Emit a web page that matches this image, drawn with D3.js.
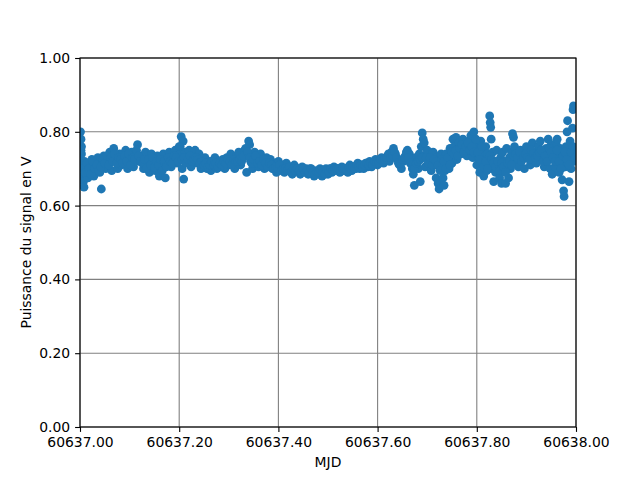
<!DOCTYPE html>
<html><head><meta charset="utf-8">
<script src="https://cdn.jsdelivr.net/npm/d3@7"></script>
<style>body{margin:0;background:#fff}svg{display:block}text{font-family:"DejaVu Sans",sans-serif}</style>
</head><body><svg id="c" width="640" height="480"></svg>
<script>
const mjdBase = 60637;
const mjdFraction = [
0.001,0.002,0.003,0.003,0.004,0.005,0.006,0.007,0.008,0.009,
0.010,0.012,0.016,0.020,0.024,0.028,0.032,0.036,0.040,0.043,
0.044,0.048,0.052,0.056,0.060,0.064,0.068,0.072,0.076,0.080,
0.084,0.088,0.092,0.096,0.100,0.104,0.108,0.112,0.116,0.120,
0.124,0.128,0.132,0.136,0.140,0.144,0.148,0.152,0.156,0.160,
0.164,0.168,0.172,0.176,0.180,0.184,0.188,0.192,0.196,0.200,
0.202,0.204,0.206,0.208,0.209,0.212,0.216,0.220,0.224,0.228,
0.232,0.236,0.240,0.244,0.248,0.252,0.256,0.260,0.264,0.268,
0.272,0.276,0.280,0.284,0.288,0.292,0.296,0.300,0.304,0.308,
0.312,0.316,0.320,0.324,0.328,0.332,0.336,0.340,0.342,0.344,
0.348,0.352,0.356,0.360,0.364,0.368,0.372,0.376,0.380,0.384,
0.388,0.392,0.396,0.400,0.404,0.408,0.412,0.416,0.420,0.424,
0.428,0.432,0.436,0.440,0.444,0.448,0.452,0.456,0.460,0.464,
0.468,0.472,0.476,0.480,0.484,0.488,0.492,0.496,0.500,0.504,
0.508,0.512,0.516,0.520,0.524,0.528,0.532,0.536,0.540,0.544,
0.548,0.552,0.556,0.560,0.564,0.568,0.572,0.576,0.580,0.584,
0.588,0.592,0.596,0.600,0.604,0.608,0.612,0.616,0.620,0.624,
0.628,0.632,0.636,0.640,0.644,0.648,0.652,0.656,0.660,0.664,
0.668,0.670,0.672,0.674,0.676,0.680,0.682,0.684,0.686,0.688,
0.690,0.692,0.694,0.696,0.700,0.704,0.708,0.712,0.716,0.718,
0.720,0.722,0.724,0.726,0.728,0.730,0.732,0.734,0.736,0.738,
0.740,0.744,0.746,0.748,0.750,0.752,0.754,0.756,0.758,0.760,
0.762,0.764,0.768,0.772,0.776,0.780,0.784,0.788,0.790,0.792,
0.794,0.796,0.798,0.800,0.802,0.804,0.806,0.808,0.810,0.812,
0.814,0.816,0.818,0.820,0.822,0.824,0.826,0.827,0.828,0.829,
0.830,0.832,0.834,0.836,0.838,0.840,0.844,0.846,0.848,0.850,
0.852,0.854,0.856,0.858,0.860,0.862,0.864,0.866,0.868,0.870,
0.872,0.874,0.876,0.878,0.880,0.884,0.888,0.892,0.896,0.900,
0.904,0.908,0.912,0.916,0.920,0.924,0.928,0.932,0.936,0.940,
0.944,0.946,0.948,0.950,0.952,0.954,0.956,0.958,0.960,0.962,
0.964,0.966,0.968,0.970,0.972,0.974,0.975,0.976,0.978,0.980,
0.982,0.983,0.985,0.986,0.988,0.990,0.992,0.993,0.994,0.995,
0.996,0.997
];
const powerV = [
0.80,0.78,0.76,0.74,0.72,0.70,0.68,0.665,0.65,0.72,
0.69,0.71,0.675,0.70,0.725,0.68,0.705,0.73,0.69,0.645,
0.715,0.735,0.70,0.72,0.745,0.695,0.755,0.725,0.70,0.74,
0.71,0.73,0.75,0.70,0.725,0.745,0.705,0.74,0.765,0.72,
0.735,0.70,0.745,0.715,0.69,0.74,0.72,0.695,0.735,0.68,
0.71,0.74,0.675,0.72,0.745,0.705,0.73,0.75,0.715,0.76,
0.74,0.787,0.70,0.775,0.672,0.745,0.72,0.75,0.705,0.735,
0.75,0.715,0.74,0.70,0.725,0.73,0.70,0.72,0.695,0.715,
0.73,0.70,0.72,0.705,0.725,0.70,0.73,0.71,0.74,0.715,
0.70,0.735,0.745,0.71,0.73,0.75,0.69,0.775,0.765,0.72,
0.70,0.745,0.725,0.705,0.74,0.72,0.70,0.73,0.71,0.725,
0.70,0.715,0.69,0.72,0.70,0.71,0.69,0.715,0.70,0.705,
0.685,0.71,0.695,0.70,0.685,0.705,0.695,0.70,0.685,0.70,
0.69,0.68,0.695,0.685,0.70,0.68,0.69,0.70,0.685,0.70,
0.69,0.705,0.695,0.70,0.69,0.705,0.695,0.70,0.69,0.71,
0.695,0.705,0.70,0.715,0.70,0.71,0.70,0.715,0.705,0.72,
0.705,0.715,0.725,0.71,0.72,0.73,0.715,0.725,0.735,0.72,
0.745,0.755,0.74,0.725,0.71,0.70,0.72,0.735,0.75,0.74,
0.72,0.70,0.685,0.655,0.73,0.72,0.70,0.74,0.665,0.76,
0.797,0.78,0.735,0.705,0.75,0.72,0.695,0.745,0.71,0.675,
0.73,0.66,0.645,0.70,0.74,0.715,0.675,0.655,0.695,0.74,
0.72,0.70,0.755,0.735,0.715,0.78,0.76,0.735,0.785,0.725,
0.75,0.77,0.74,0.78,0.755,0.735,0.775,0.79,0.75,0.73,
0.80,0.765,0.74,0.71,0.76,0.73,0.69,0.775,0.745,0.71,
0.68,0.735,0.76,0.695,0.74,0.72,0.843,0.825,0.812,0.78,
0.70,0.745,0.665,0.72,0.69,0.75,0.71,0.675,0.73,0.66,
0.745,0.695,0.72,0.66,0.755,0.705,0.675,0.73,0.70,0.745,
0.795,0.785,0.76,0.72,0.74,0.705,0.75,0.725,0.70,0.76,
0.735,0.71,0.77,0.745,0.715,0.76,0.775,0.73,0.705,0.755,
0.78,0.74,0.70,0.765,0.685,0.725,0.75,0.705,0.77,0.78,
0.735,0.69,0.755,0.72,0.67,0.74,0.64,0.625,0.705,0.76,
0.80,0.83,0.73,0.665,0.775,0.70,0.745,0.81,0.86,0.87,
0.72,0.75
];
// second pass of readings between the first ones
const mjdFraction2 = [
0.002,0.006,0.010,0.014,0.018,0.022,0.026,0.030,0.034,0.038,
0.042,0.046,0.050,0.054,0.058,0.062,0.066,0.070,0.074,0.078,
0.082,0.086,0.090,0.094,0.098,0.102,0.106,0.110,0.114,0.118,
0.122,0.126,0.130,0.134,0.138,0.142,0.146,0.150,0.154,0.158,
0.162,0.166,0.170,0.174,0.178,0.182,0.186,0.190,0.194,0.198,
0.202,0.206,0.210,0.214,0.218,0.222,0.226,0.230,0.234,0.238,
0.242,0.246,0.250,0.254,0.258,0.262,0.266,0.270,0.274,0.278,
0.282,0.286,0.290,0.294,0.298,0.302,0.306,0.310,0.314,0.318,
0.322,0.326,0.330,0.334,0.338,0.342,0.346,0.350,0.354,0.358,
0.362,0.366,0.370,0.374,0.378,0.382,0.386,0.390,0.394,0.398,
0.402,0.406,0.410,0.414,0.418,0.422,0.426,0.430,0.434,0.438,
0.442,0.446,0.450,0.454,0.458,0.462,0.466,0.470,0.474,0.478,
0.482,0.486,0.490,0.494,0.498,0.502,0.506,0.510,0.514,0.518,
0.522,0.526,0.530,0.534,0.538,0.542,0.546,0.550,0.554,0.558,
0.562,0.566,0.570,0.574,0.578,0.582,0.586,0.590,0.594,0.598,
0.602,0.606,0.610,0.614,0.618,0.622,0.626,0.630,0.634,0.638,
0.642,0.646,0.650,0.654,0.658,0.662,0.666,0.670,0.674,0.678,
0.682,0.686,0.690,0.694,0.698,0.702,0.706,0.710,0.714,0.718,
0.722,0.726,0.730,0.734,0.738,0.742,0.746,0.750,0.754,0.758,
0.762,0.766,0.770,0.774,0.778,0.782,0.786,0.790,0.794,0.798,
0.802,0.806,0.810,0.814,0.818,0.822,0.826,0.830,0.834,0.838,
0.842,0.846,0.850,0.854,0.858,0.862,0.866,0.870,0.874,0.878,
0.882,0.886,0.890,0.894,0.898,0.902,0.906,0.910,0.914,0.918,
0.922,0.926,0.930,0.934,0.938,0.942,0.946,0.950,0.954,0.958,
0.962,0.966,0.970,0.974,0.978,0.982,0.986,0.990,0.994,0.998
];
const powerV2 = [
0.75,0.70,0.69,0.715,0.70,0.685,0.72,0.70,0.71,0.695,
0.705,0.725,0.715,0.735,0.71,0.73,0.72,0.74,0.715,0.73,
0.725,0.715,0.735,0.72,0.74,0.71,0.73,0.725,0.75,0.735,
0.72,0.715,0.725,0.70,0.725,0.71,0.73,0.705,0.72,0.71,
0.725,0.695,0.72,0.705,0.73,0.72,0.715,0.735,0.73,0.72,
0.76,0.725,0.73,0.715,0.725,0.735,0.72,0.725,0.73,0.725,
0.715,0.72,0.71,0.715,0.705,0.71,0.72,0.71,0.715,0.705,
0.715,0.71,0.72,0.715,0.725,0.72,0.71,0.725,0.72,0.72,
0.725,0.72,0.735,0.755,0.745,0.73,0.715,0.725,0.735,0.715,
0.72,0.71,0.725,0.715,0.705,0.715,0.71,0.70,0.705,0.70,
0.71,0.695,0.70,0.70,0.695,0.705,0.69,0.70,0.695,0.70,
0.695,0.69,0.70,0.69,0.695,0.69,0.70,0.69,0.685,0.69,
0.69,0.695,0.69,0.685,0.695,0.69,0.70,0.695,0.70,0.70,
0.70,0.695,0.70,0.70,0.695,0.705,0.70,0.705,0.70,0.71,
0.705,0.71,0.705,0.71,0.715,0.71,0.715,0.71,0.72,0.715,
0.715,0.725,0.72,0.725,0.73,0.74,0.73,0.735,0.745,0.73,
0.715,0.715,0.725,0.73,0.745,0.73,0.715,0.71,0.70,0.715,
0.72,0.725,0.73,0.77,0.73,0.715,0.73,0.71,0.725,0.72,
0.71,0.695,0.725,0.72,0.70,0.73,0.71,0.745,0.74,0.75,
0.735,0.755,0.765,0.745,0.76,0.77,0.75,0.76,0.745,0.78,
0.745,0.725,0.76,0.705,0.72,0.70,0.735,0.725,0.715,0.705,
0.72,0.695,0.715,0.705,0.69,0.715,0.72,0.71,0.735,0.74,
0.73,0.745,0.72,0.73,0.74,0.73,0.725,0.75,0.74,0.73,
0.735,0.745,0.75,0.72,0.735,0.72,0.755,0.745,0.73,0.72,
0.75,0.72,0.70,0.735,0.745,0.725,0.71,0.745,0.76,0.73
];
const xTicks = [60637.0, 60637.2, 60637.4, 60637.6, 60637.8, 60638.0];
const yTicks = [0, 0.2, 0.4, 0.6, 0.8, 1.0];
const xLabel = "MJD";
const yLabel = "Puissance du signal en V";

const data = mjdFraction.map((f, i) => ({ x: mjdBase + f, y: powerV[i] }))
  .concat(mjdFraction2.map((f, i) => ({ x: mjdBase + f, y: powerV2[i] })));
const L = 80, R = 576, T = 58, B = 427;
const svg = d3.select("#c");
const x = d3.scaleLinear().domain([60637, 60638]).range([L, R]);
const y = d3.scaleLinear().domain([0, 1]).range([B, T]);
const fmt = d3.format(".2f");

// grid
const grid = svg.append("g");
grid.selectAll("line.gx").data(xTicks).join("line")
  .attr("x1", d => x(d)).attr("x2", d => x(d)).attr("y1", T).attr("y2", B)
  .attr("stroke", "#808080").attr("stroke-width", 1.1);
grid.selectAll("line.gy").data(yTicks).join("line")
  .attr("y1", d => y(d)).attr("y2", d => y(d)).attr("x1", L).attr("x2", R)
  .attr("stroke", "#808080").attr("stroke-width", 1.1);

// points
svg.append("clipPath").attr("id", "clp").append("rect")
  .attr("x", L).attr("y", T).attr("width", R - L).attr("height", B - T);
svg.append("g").attr("clip-path", "url(#clp)").selectAll("circle").data(data).join("circle")
  .attr("cx", d => x(d.x)).attr("cy", d => y(d.y)).attr("r", 4.4)
  .attr("fill", "#1f77b4");

// axes
const xAxis = d3.axisBottom(x).tickValues(xTicks).tickFormat(fmt).tickSize(4.9).tickPadding(4.9);
const yAxis = d3.axisLeft(y).tickValues(yTicks).tickFormat(fmt).tickSize(4.9).tickPadding(4.9);
const gx = svg.append("g").attr("transform", `translate(0,${B})`).call(xAxis);
const gy = svg.append("g").attr("transform", `translate(${L},0)`).call(yAxis);
[gx, gy].forEach(g => {
  g.select(".domain").remove();
  g.selectAll(".tick line").attr("stroke", "#000").attr("stroke-width", 1.1);
  g.selectAll(".tick text").attr("fill", "#000").style("font-size", "13.9px").style("font-family", "DejaVu Sans");
});

// spines
svg.append("rect").attr("x", L).attr("y", T).attr("width", R - L).attr("height", B - T)
  .attr("fill", "none").attr("stroke", "#000").attr("stroke-width", 1.1);

svg.append("text").attr("x", (L + R) / 2).attr("y", 467).attr("text-anchor", "middle")
  .style("font-size", "13.9px").text(xLabel);
svg.append("text").attr("transform", `translate(31,${(T + B) / 2}) rotate(-90)`)
  .attr("text-anchor", "middle").style("font-size", "13.9px").text(yLabel);
</script></body></html>
